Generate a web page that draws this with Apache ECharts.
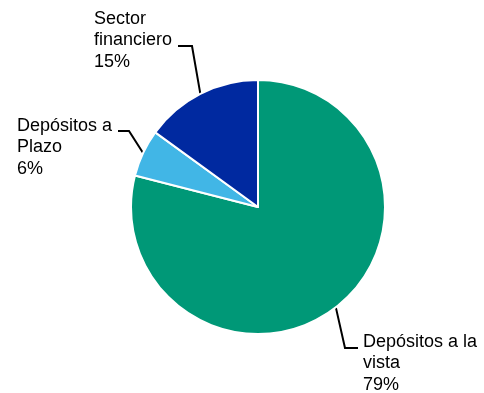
<!DOCTYPE html>
<html>
<head>
<meta charset="utf-8">
<script src="https://cdn.jsdelivr.net/npm/echarts@6/dist/echarts.min.js"></script>
<style>
  html, body { margin: 0; padding: 0; background: #fff; }
  #chart { width: 484px; height: 393px; }
</style>
</head>
<body>
<div id="chart"></div>
<script>
// data
const categories = ["Depósitos a la\nvista", "Depósitos a\nPlazo", "Sector\nfinanciero"];
const shares = [79, 6, 15];
const colors = ["#009877", "#41B6E6", "#0029A0"];

// where each label sits, and the elbow/end of its leader line
const labelSpots = [
  { x: 363, y: 331, elbow: [345, 348], end: [358, 348] },
  { x: 17, y: 115, elbow: [129, 131], end: [118, 131] },
  { x: 94, y: 8, elbow: [192, 46], end: [178, 46] }
];

const myChart = echarts.init(document.getElementById("chart"));

myChart.setOption({
  animation: false,
  series: [
    {
      type: "pie",
      center: [258, 207],
      radius: 127,
      startAngle: 90,
      clockwise: true,
      percentPrecision: 0,
      avoidLabelOverlap: false,
      itemStyle: { borderColor: "#fff", borderWidth: 2 },
      label: {
        show: true,
        formatter: "{b}\n{d}%",
        fontFamily: "Liberation Sans, Arial, sans-serif",
        fontSize: 18,
        lineHeight: 21.5,
        color: "#000",
        overflow: "none",
        width: 140
      },
      labelLine: {
        show: true,
        lineStyle: { color: "#000", width: 2 }
      },
      labelLayout: function (params) {
        const s = labelSpots[params.dataIndex];
        const start = params.labelLinePoints ? params.labelLinePoints[0] : s.elbow;
        return {
          x: s.x,
          y: s.y,
          align: "left",
          verticalAlign: "top",
          labelLinePoints: [start, s.elbow, s.end]
        };
      },
      data: categories.map((name, i) => ({
        name: name,
        value: shares[i],
        itemStyle: { color: colors[i] }
      }))
    }
  ]
});
</script>
</body>
</html>
